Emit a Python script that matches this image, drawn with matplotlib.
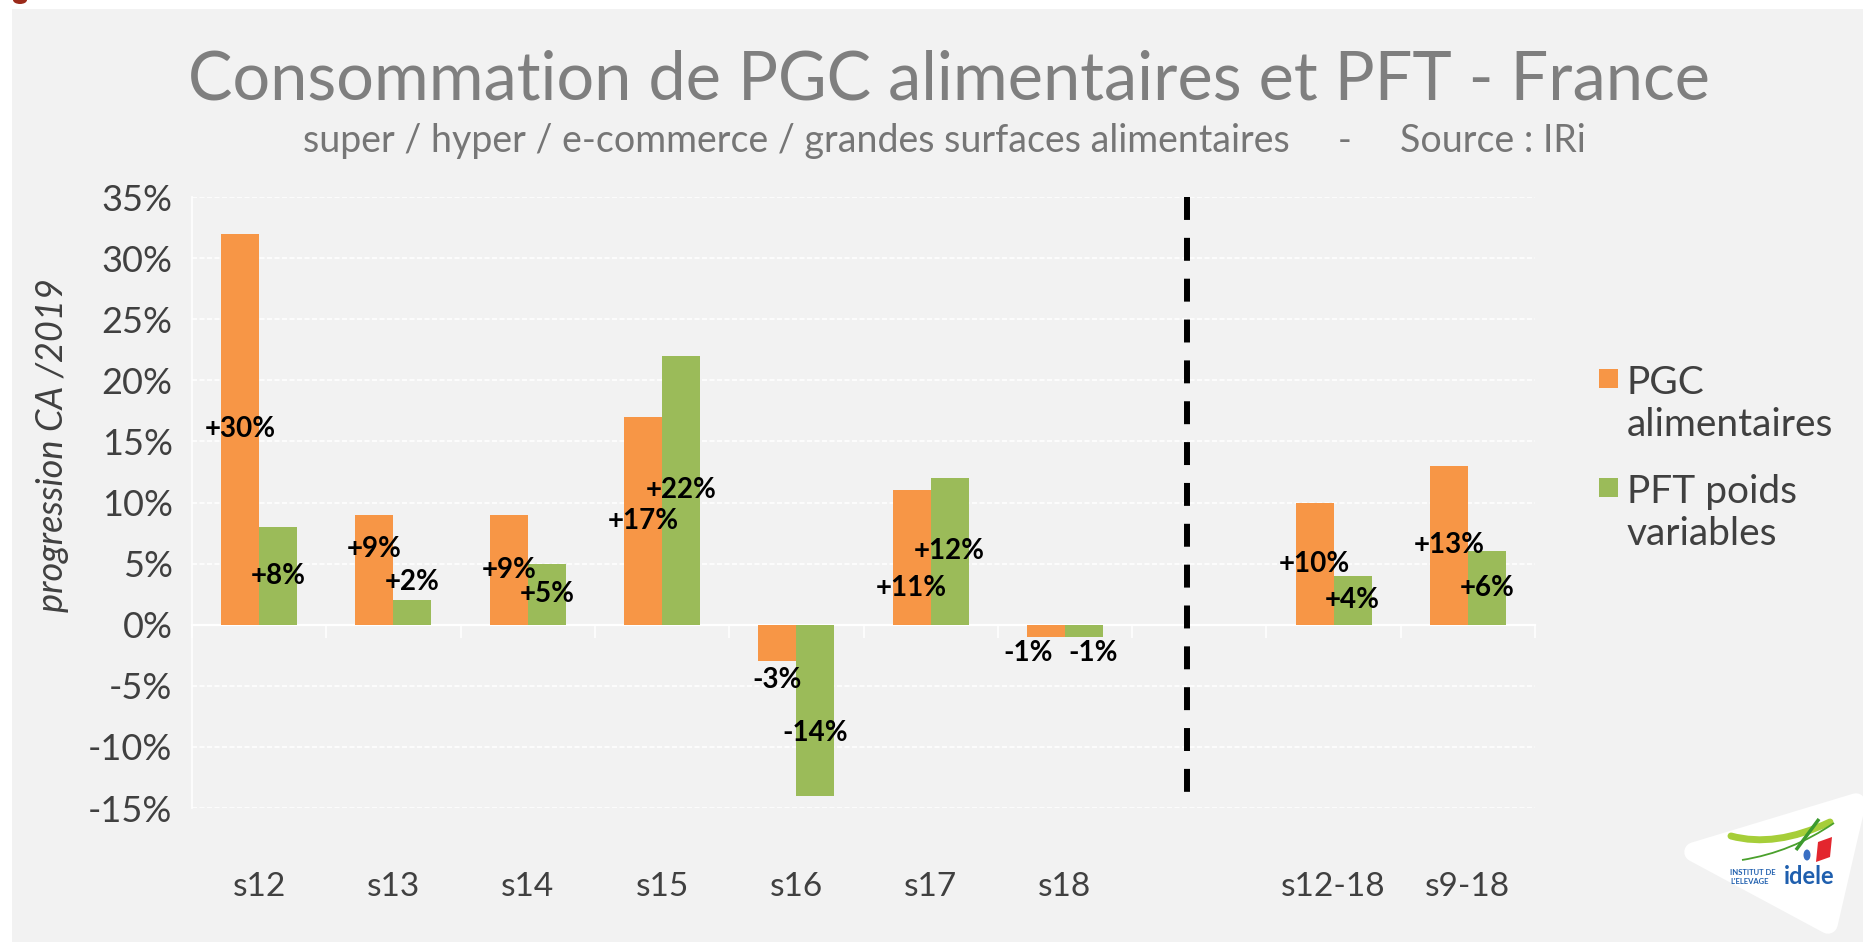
import numpy as np
import matplotlib.pyplot as plt
from matplotlib.patches import Rectangle, Polygon, Ellipse, PathPatch
from matplotlib.path import Path
from matplotlib.transforms import Affine2D

W, H = 1863, 942
FONT = 'Lato'
ORANGE = '#F79646'
GREEN = '#9BBB59'
BG = '#F2F2F2'
TXT = '#404040'

# chart data (slot 7 is the empty gap with the dashed separator)
categories = ['s12', 's13', 's14', 's15', 's16', 's17', 's18', '', 's12-18', 's9-18']
pgc = [32, 9, 9, 17, -3, 11, -1, np.nan, 10, 13]
pft = [8, 2, 5, 22, -14, 12, -1, np.nan, 4, 6]
pgc_labels = ['+30%', '+9%', '+9%', '+17%', '-3%', '+11%', '-1%', '', '+10%', '+13%']
pft_labels = ['+8%', '+2%', '+5%', '+22%', '-14%', '+12%', '-1%', '', '+4%', '+6%']
series_names = ['PGC\nalimentaires', 'PFT poids\nvariables']
yticks = list(range(-15, 40, 5))

# labels were hand-moved in the original: small nudges (y in % points, x in slots)
pgc_nudge = [0, 1.7, 0, 0, -3.0, -2.5, -1.8, 0, 0, 0]
pft_nudge = [0, 2.5, 0, 0, -1.85, 0, -1.8, 0, 0, 0]
pgc_dx = [0, 0, 0, 0, 0, 0, -0.13, 0, 0, 0]
pft_dx = [0, 0, 0, 0, 0, 0, 0.07, 0, 0, 0]

plt.rcParams['font.family'] = [FONT, 'DejaVu Sans']

fig = plt.figure(figsize=(W / 100, H / 100), dpi=100, facecolor='white')
px = Affine2D().scale(1 / W, -1 / H).translate(0, 1) + fig.transFigure

# slide background
fig.add_artist(Rectangle((12, 9), W - 12, H - 9, transform=px, facecolor=BG,
                         edgecolor='none', zorder=0))
fig.add_artist(Ellipse((20, 0), 14, 8, transform=px, facecolor='#9b2a1a',
                       edgecolor='none', zorder=1))

ax = fig.add_axes([192 / W, 1 - 808 / H, (1535 - 192) / W, (808 - 197) / H])
ax.set_facecolor('none')

x = np.arange(len(categories))
bw = 0.283
ax.bar(x - bw / 2, pgc, bw, color=ORANGE, zorder=3)
ax.bar(x + bw / 2, pft, bw, color=GREEN, zorder=3)

for vals, labs, nud, dx, off in [(pgc, pgc_labels, pgc_nudge, pgc_dx, -bw / 2),
                                 (pft, pft_labels, pft_nudge, pft_dx, bw / 2)]:
    for i, (v, lab) in enumerate(zip(vals, labs)):
        if np.isnan(v):
            continue
        ax.text(x[i] + off + dx[i], v / 2 + nud[i], lab, ha='center', va='center',
                fontsize=20, fontweight='bold', color='black', zorder=5)

ax.set_xlim(-0.5, len(categories) - 0.5)
ax.set_ylim(yticks[0], yticks[-1])

ax.set_yticks(yticks)
ax.set_yticklabels([f'{v}%' for v in yticks])
ax.set_xticks(x)
ax.set_xticklabels(categories)
ax.set_xticks(np.arange(-0.5, len(categories)), minor=True)

ax.tick_params(axis='y', length=0, pad=14, labelsize=26, labelcolor=TXT)
ax.tick_params(axis='x', which='major', length=0, pad=178, labelsize=24,
               labelcolor=TXT)
ax.tick_params(axis='x', which='minor', length=9.5, width=1.2, color='white',
               direction='out')

ax.yaxis.grid(True, color='white', linestyle=(0, (3, 1.5)), linewidth=1.2)
ax.set_axisbelow(True)
for s in ['top', 'right']:
    ax.spines[s].set_visible(False)
ax.spines['bottom'].set_position(('data', 0))
ax.spines['bottom'].set_color('white')
ax.spines['bottom'].set_linewidth(1.6)
ax.spines['left'].set_color('white')
ax.spines['left'].set_linewidth(1.2)

# dashed separator in the empty slot
gap = categories.index('')
ax.plot([gap - 0.09, gap - 0.09], [yticks[-1], yticks[0] + 0.8], color='black',
        lw=4.3, linestyle=(0, (3.84, 3.0)), zorder=4, clip_on=False)

# titles
fig.text(949 / W, 1 - 99 / H, 'Consommation de PGC alimentaires et PFT - France',
         ha='center', va='baseline', fontsize=48, color='#7f7f7f')
fig.text(944 / W, 1 - 152 / H,
         'super / hyper / e-commerce / grandes surfaces alimentaires     -     Source : IRi',
         ha='center', va='baseline', fontsize=27, color='#767676')
fig.text(53 / W, 1 - 445 / H, 'progression CA /2019', rotation=90, style='italic',
         ha='center', va='center', fontsize=26, color=TXT)

# legend
for (y0, col, name) in [(369, ORANGE, series_names[0]), (478, GREEN, series_names[1])]:
    fig.add_artist(Rectangle((1599, y0), 19, 19, transform=px, facecolor=col,
                             edgecolor='none', zorder=3))
    fig.text(1627 / W, 1 - (y0 - 4) / H, name, ha='left', va='top', fontsize=28,
             color=TXT, linespacing=1.2)

# idele logo
fig.add_artist(Polygon([(1694, 852), (1856, 803), (1828, 924)], closed=True,
                       transform=px, facecolor='white', edgecolor='white', lw=14,
                       joinstyle='round', zorder=2))
swoosh = Path([(1731, 836), (1775, 848), (1830, 822)],
              [Path.MOVETO, Path.CURVE3, Path.CURVE3])
fig.add_artist(PathPatch(swoosh, transform=px, facecolor='none', edgecolor='#a6ce39',
                         lw=5, capstyle='round', zorder=3))
thin = Path([(1742, 860), (1792, 852), (1834, 823)],
            [Path.MOVETO, Path.CURVE3, Path.CURVE3])
fig.add_artist(PathPatch(thin, transform=px, facecolor='none', edgecolor='#4aa02c',
                         lw=1.3, zorder=3))
fig.add_artist(PathPatch(Path([(1796, 850), (1819, 819)]), transform=px,
                         facecolor='none', edgecolor='#3c9a2e', lw=2.5, zorder=3))
fig.add_artist(Ellipse((1807, 855), 7, 11, transform=px, facecolor='#3a6fc4',
                       edgecolor='none', zorder=3))
fig.add_artist(Polygon([(1818, 842), (1832, 837), (1830, 857), (1816, 862)],
                       closed=True, transform=px, facecolor='#e3262e',
                       edgecolor='none', zorder=3))
fig.text(1730 / W, 1 - 875 / H, 'INSTITUT DE', fontsize=5.5, fontweight='bold',
         color='#1f5fae', va='baseline')
fig.text(1730 / W, 1 - 884 / H, "L'ELEVAGE", fontsize=5.5, fontweight='bold',
         color='#1f5fae', va='baseline')
fig.text(1784 / W, 1 - 884 / H, 'idele', fontsize=17, fontweight='bold',
         color='#1f5fae', va='baseline')

fig.savefig('out.png', dpi=100, facecolor='white')
